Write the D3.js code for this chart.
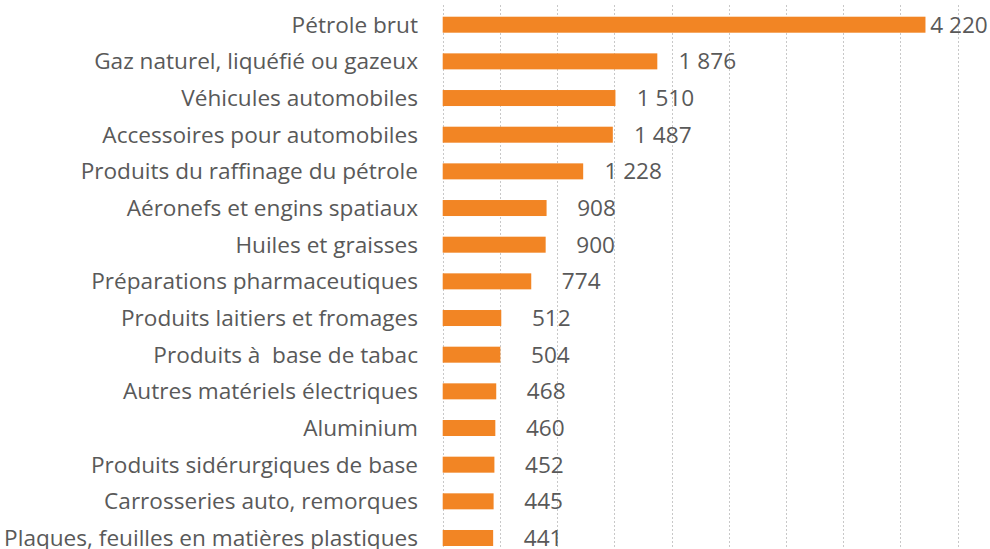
<!DOCTYPE html>
<html>
<head>
<meta charset="utf-8">
<script src="https://cdn.jsdelivr.net/npm/d3@7"></script>
<style>
  html, body { margin: 0; padding: 0; background: #fff; }
  svg { display: block; }
  text { white-space: pre; }
</style>
</head>
<body>
<svg id="chart" width="990" height="549"></svg>
<script>
const categories = [
  "Pétrole brut",
  "Gaz naturel, liquéfié ou gazeux",
  "Véhicules automobiles",
  "Accessoires pour automobiles",
  "Produits du raffinage du pétrole",
  "Aéronefs et engins spatiaux",
  "Huiles et graisses",
  "Préparations pharmaceutiques",
  "Produits laitiers et fromages",
  "Produits à  base de tabac",
  "Autres matériels électriques",
  "Aluminium",
  "Produits sidérurgiques de base",
  "Carrosseries auto, remorques",
  "Plaques, feuilles en matières plastiques"
];
const values = [4220, 1876, 1510, 1487, 1228, 908, 900, 774, 512, 504, 468, 460, 452, 445, 441];
const gridTicks = [0, 500, 1000, 1500, 2000, 2500, 3000, 3500, 4000, 4500, 5000];

const W = 990, H = 549;
const svg = d3.select("#chart");
const font = "'Open Sans', sans-serif";
const fontSize = 22.6;
const textColor = "#595959";
const barColor = "#F28524";

const x = d3.scaleLinear().domain([0, 5000]).range([442.7, 442.7 + 572]);
const y = d3.scaleBand().domain(categories).range([6.37, 556.33])
  .paddingInner(0.5636).paddingOuter(0.2818);

const fr = d3.formatLocale({ decimal: ",", thousands: "\u00a0", grouping: [3], currency: ["", " €"] });
const fmt = fr.format(",d");

// gridlines
svg.append("g").selectAll("line").data(gridTicks).join("line")
  .attr("x1", d => Math.round(x(d)) + 0.5).attr("x2", d => Math.round(x(d)) + 0.5)
  .attr("y1", 5).attr("y2", H)
  .attr("stroke", "#c8c8c8").attr("stroke-width", 1)
  .attr("stroke-dasharray", "2,2");

// bars
svg.append("g").selectAll("rect").data(values).join("rect")
  .attr("x", x(0))
  .attr("y", (d, i) => y(categories[i]))
  .attr("width", d => x(d) - x(0))
  .attr("height", y.bandwidth())
  .attr("fill", barColor);

// category labels
svg.append("g").selectAll("text").data(categories).join("text")
  .attr("x", 418)
  .attr("y", d => y(d) + y.bandwidth() / 2)
  .attr("dy", "0.35em")
  .attr("text-anchor", "end")
  .attr("font-family", font)
  .attr("font-size", fontSize)
  .attr("fill", textColor)
  .text(d => d);

// value labels
svg.append("g").selectAll("text").data(values).join("text")
  .attr("x", d => Math.min(x(d) + 50, 959))
  .attr("y", (d, i) => y(categories[i]) + y.bandwidth() / 2)
  .attr("dy", "0.35em")
  .attr("text-anchor", "middle")
  .attr("font-family", font)
  .attr("font-size", fontSize)
  .attr("fill", textColor)
  .text(d => fmt(d));
</script>
</body>
</html>
